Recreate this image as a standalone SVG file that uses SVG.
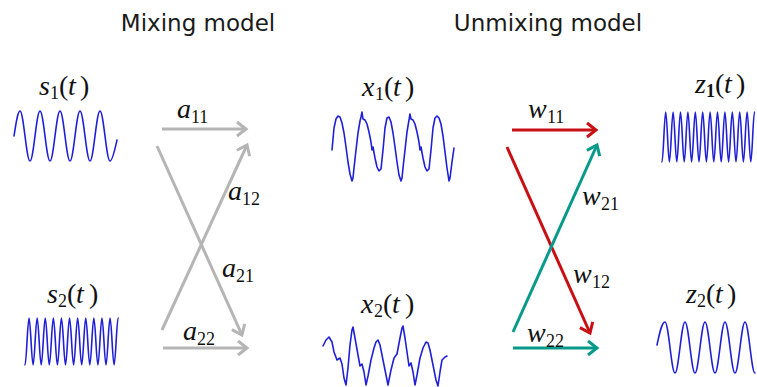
<svg xmlns="http://www.w3.org/2000/svg" width="757" height="387" viewBox="0 0 757 387">
<style>
.title{font-family:"DejaVu Sans",Verdana,sans-serif;font-size:23px;fill:#1a1a1a;text-anchor:middle}
.m{font-family:"Liberation Serif","Times New Roman",serif;font-size:28px;fill:#111}
.i{font-style:italic}
.sb{font-size:18px;font-style:normal}
.wave{fill:none;stroke:#1f1fd6;stroke-width:1.6;stroke-linejoin:round;stroke-linecap:round}
.gray{stroke:#b5b5b5}
.red{stroke:#c80f14}
.teal{stroke:#079a8a}
.conn line{stroke-width:3;fill:none}
</style>
<defs>
<marker id="ag" markerUnits="userSpaceOnUse" viewBox="0 0 14 16" markerWidth="14" markerHeight="16" refX="11" refY="8" orient="auto" overflow="visible"><path d="M2,1 L11,8 L2,15" fill="none" stroke="#b5b5b5" stroke-width="3"/></marker>
<marker id="ar" markerUnits="userSpaceOnUse" viewBox="0 0 14 16" markerWidth="14" markerHeight="16" refX="11" refY="8" orient="auto" overflow="visible"><path d="M2,1 L11,8 L2,15" fill="none" stroke="#c80f14" stroke-width="3"/></marker>
<marker id="at" markerUnits="userSpaceOnUse" viewBox="0 0 14 16" markerWidth="14" markerHeight="16" refX="11" refY="8" orient="auto" overflow="visible"><path d="M2,1 L11,8 L2,15" fill="none" stroke="#079a8a" stroke-width="3"/></marker>
</defs>
<rect width="757" height="387" fill="#ffffff"/>
<g id="titles">
<text class="title" x="198" y="31">Mixing model</text>
<text class="title" x="548" y="31">Unmixing model</text>
</g>
<g id="s1">
<text class="m" y="95"><tspan class="i" x="39">s</tspan><tspan class="sb" x="50" dy="4">1</tspan><tspan x="59" dy="-4">(</tspan><tspan class="i" x="68">t</tspan><tspan x="80">)</tspan></text>
<path class="wave" d="M14,136 c 2,-12.8 3.8,-25 6,-25 c 3.63,0 6.37,50 10,50 s 6.37,-50 10,-50 s 6.37,50 10,50 s 6.37,-50 10,-50 s 6.37,50 10,50 s 6.37,-50 10,-50 s 6.37,50 10,50 s 6.37,-50 10,-50 s 6.37,50 10,50 c 2.5,0 5,-12 7,-21"/>
</g>
<g id="s2">
<text class="m" y="303"><tspan class="i" x="47">s</tspan><tspan class="sb" x="58" dy="4">2</tspan><tspan x="67" dy="-4">(</tspan><tspan class="i" x="76">t</tspan><tspan x="89">)</tspan></text>
<path class="wave" d="M25,365 c 1.47,0 2.58,-47 4.05,-47 s 2.58,47 4.05,47 s 2.58,-47 4.05,-47 s 2.58,47 4.05,47 s 2.58,-47 4.05,-47 s 2.58,47 4.05,47 s 2.58,-47 4.05,-47 s 2.58,47 4.05,47 s 2.58,-47 4.05,-47 s 2.58,47 4.05,47 s 2.58,-47 4.05,-47 s 2.58,47 4.05,47 s 2.58,-47 4.05,-47 s 2.58,47 4.05,47 s 2.58,-47 4.05,-47 s 2.58,47 4.05,47 s 2.58,-47 4.05,-47 s 2.58,47 4.05,47 s 2.58,-47 4.05,-47 s 2.58,47 4.05,47 s 2.58,-47 4.05,-47 s 2.58,47 4.05,47 s 2.58,-47 4.05,-47"/>
</g>
<g id="x1">
<text class="m" y="96"><tspan class="i" x="362">x</tspan><tspan class="sb" x="375" dy="4">1</tspan><tspan x="384" dy="-4">(</tspan><tspan class="i" x="393">t</tspan><tspan x="405">)</tspan></text>
<polyline class="wave" points="332,150 334,128 336,119 338,116 340,117 342,123 344,133 346,147 348,162 350,174 352,181 353,178 354,168 356,150 358,133 360,121 361,117 362,112 363,119 365,120 367,124 369,132 371,142 372,150 373,147 375,158 377,167 379,171 381,169 383,150 385,128 387,118 389,117 391,122 393,133 395,147 397,162 399,175 401,181 402,178 403,168 405,150 407,132 409,120 410,114 411,119 413,120 415,124 417,132 419,142 420,150 421,147 423,158 425,167 427,171 429,169 431,150 433,128 435,118 437,116 439,118 441,124 443,136 445,152 447,168 449,181 450,178 452,162 454,148"/>
</g>
<g id="x2">
<text class="m" y="313"><tspan class="i" x="361">x</tspan><tspan class="sb" x="374" dy="4">2</tspan><tspan x="383" dy="-4">(</tspan><tspan class="i" x="392">t</tspan><tspan x="405">)</tspan></text>
<polyline class="wave" points="323,346 326,340 329,337 332,342 334,352 337,360 340,358 342,364 344,378 346,385 348,368 350,345 352,330 353,327 355,338 358,355 360,366 362,364 364,372 366,385 368,376 371,360 374,348 376,342 378,340 380,345 383,360 386,375 388,385 391,370 394,358 397,354 400,338 402,328 403,326 405,338 407,352 409,366 411,363 413,372 415,385 417,375 420,358 423,348 426,342 428,343 430,350 433,365 436,380 438,386 440,372 442,360 445,357 447,356"/>
</g>
<g id="z1">
<text class="m" y="93"><tspan class="i" x="695">z</tspan><tspan class="sb" x="706" dy="4" font-weight="bold">1</tspan><tspan x="715" dy="-4">(</tspan><tspan class="i" x="724">t</tspan><tspan x="736">)</tspan></text>
<path class="wave" d="M662,162 c 1.34,0 2.36,-50 3.7,-50 s 2.36,50 3.7,50 s 2.36,-50 3.7,-50 s 2.36,50 3.7,50 s 2.36,-50 3.7,-50 s 2.36,50 3.7,50 s 2.36,-50 3.7,-50 s 2.36,50 3.7,50 s 2.36,-50 3.7,-50 s 2.36,50 3.7,50 s 2.36,-50 3.7,-50 s 2.36,50 3.7,50 s 2.36,-50 3.7,-50 s 2.36,50 3.7,50 s 2.36,-50 3.7,-50 s 2.36,50 3.7,50 s 2.36,-50 3.7,-50 s 2.36,50 3.7,50 s 2.36,-50 3.7,-50 s 2.36,50 3.7,50 s 2.36,-50 3.7,-50 s 2.36,50 3.7,50 s 2.36,-50 3.7,-50 s 2.36,50 3.7,50 s 2.36,-50 3.7,-50"/>
</g>
<g id="z2">
<text class="m" y="303"><tspan class="i" x="686">z</tspan><tspan class="sb" x="697" dy="4">2</tspan><tspan x="706" dy="-4">(</tspan><tspan class="i" x="715">t</tspan><tspan x="727">)</tspan></text>
<path class="wave" d="M657,345 c 2.6,-12 4.8,-23 8,-23 c 3.63,0 6.37,51 10,51 s 6.37,-51 10,-51 s 6.37,51 10,51 s 6.37,-51 10,-51 s 6.37,51 10,51 s 6.37,-51 10,-51 s 6.37,51 10,51 s 6.37,-51 10,-51 s 6.37,51 10,51"/>
</g>
<g id="connectors" class="conn">
<line class="gray" x1="162" y1="129" x2="246" y2="129" marker-end="url(#ag)"/>
<line class="gray" x1="157" y1="146" x2="242" y2="335" marker-end="url(#ag)"/>
<line class="gray" x1="162" y1="330" x2="247" y2="145" marker-end="url(#ag)"/>
<line class="gray" x1="163" y1="348" x2="247" y2="348" marker-end="url(#ag)"/>
<line class="red" x1="512" y1="130" x2="596" y2="130" marker-end="url(#ar)"/>
<line class="red" x1="507" y1="147" x2="590" y2="333" marker-end="url(#ar)"/>
<line class="teal" x1="513" y1="332" x2="597" y2="145" marker-end="url(#at)"/>
<line class="teal" x1="513" y1="348" x2="597" y2="348" marker-end="url(#at)"/>
</g>
<g id="edge-labels">
<text class="m" y="118"><tspan class="i" x="177">a</tspan><tspan class="sb" x="191" dy="5">11</tspan></text>
<text class="m" y="200"><tspan class="i" x="228">a</tspan><tspan class="sb" x="242" dy="5">12</tspan></text>
<text class="m" y="277"><tspan class="i" x="222">a</tspan><tspan class="sb" x="236" dy="5">21</tspan></text>
<text class="m" y="340"><tspan class="i" x="183">a</tspan><tspan class="sb" x="197" dy="5">22</tspan></text>
<text class="m" y="118"><tspan class="i" x="528">w</tspan><tspan class="sb" x="547" dy="5">11</tspan></text>
<text class="m" y="205"><tspan class="i" x="582">w</tspan><tspan class="sb" x="601" dy="5">21</tspan></text>
<text class="m" y="283"><tspan class="i" x="573">w</tspan><tspan class="sb" x="592" dy="5">12</tspan></text>
<text class="m" y="342"><tspan class="i" x="527">w</tspan><tspan class="sb" x="546" dy="5">22</tspan></text>
</g>
</svg>
